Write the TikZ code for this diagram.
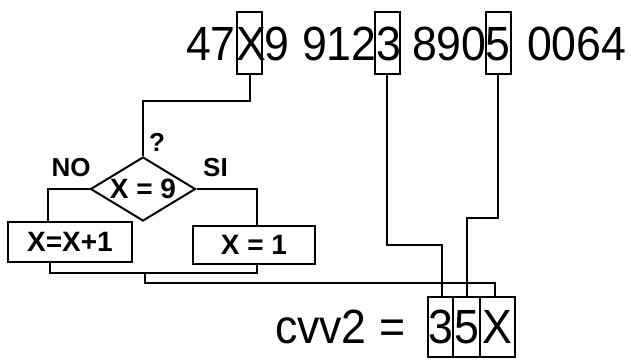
\documentclass[tikz,border=0pt]{standalone}
\usepackage{fontspec}
\setmainfont{Liberation Sans}
\newfontfamily\bignum{Liberation Sans}[FakeStretch=0.93]
\usetikzlibrary{shapes.geometric}
\begin{document}
\begin{tikzpicture}[x=1pt,y=-1pt,line width=2pt,
  num/.style={inner sep=0pt,anchor=base west,font=\bignum\fontsize{48}{48}\selectfont},
  cell/.style={draw,inner sep=0pt,minimum width=25pt,minimum height=62pt},
  res/.style={draw,inner sep=0pt,anchor=base,text height=46pt,text depth=14pt,
    font=\bignum\fontsize{48}{48}\selectfont},
  flowbox/.style={draw,inner sep=0pt,font=\bfseries\fontsize{28}{28}\selectfont},
  decision/.style={draw,diamond,aspect=1.64,inner sep=0pt,minimum width=105pt,
    minimum height=64pt,font=\bfseries\fontsize{28}{28}\selectfont},
  lbl/.style={inner sep=0pt,font=\bfseries\fontsize{26}{26}\selectfont}]
\useasboundingbox (0,0) rectangle (631,360);

% card number
\node[num] (t47) at (185,60) {47};
\node[num,anchor=base] (tX) at (251,60) {X};
\node[num] (t9) at (263,60) {9};
\node[num] (t912) at (301,60) {912};
\node[num,anchor=base] (t3) at (388.5,60) {3};
\node[num] (t890) at (411,60) {890};
\node[num,anchor=base] (t5) at (497.5,60) {5};
\node[num] (t0064) at (526,60) {0064};
\node[cell] (cX) at (249.5,43) {};
\node[cell] (c3) at (387,43) {};
\node[cell] (c5) at (498,43) {};

% test on X
\node[decision] (test) at (143,189) {X = 9};
\node[lbl] (qm) at (157,142) {?};
\node[lbl] (no) at (71,168) {NO};
\node[lbl] (si) at (215.5,168) {SI};
\node[flowbox,minimum width=124pt,minimum height=40pt] (inc) at (70,242) {X=X+1};
\node[flowbox,minimum width=122pt,minimum height=38pt] (one) at (254,245) {X = 1};
\coordinate (merge) at (145,273);

% result
\node[num] (cvv) at (274,343) {cvv2 =};
\node[res,minimum width=25pt] (r3) at (440.5,343) {3};
\node[res,minimum width=27pt] (r5) at (466.5,343) {5};
\node[res,minimum width=35pt] (rX) at (497.5,343) {X};

\draw (cX.south) -- ++(0,26) -| (test.north);
\draw (test.west) -| ([xshift=-22pt]inc.north);
\draw (test.east) -| ([xshift=3pt]one.north);
\draw ([xshift=-20pt]inc.south) |- (merge) -| ([xshift=3pt]one.south);
\draw (merge) -- ++(0,10) -| ([xshift=-3pt]rX.north);
\draw (c3.south) -- ++(0,170) -| ([xshift=1.5pt]r3.north);
\draw (c5.south) -- ++(0,143) -| (r5.north);
\end{tikzpicture}
\end{document}
